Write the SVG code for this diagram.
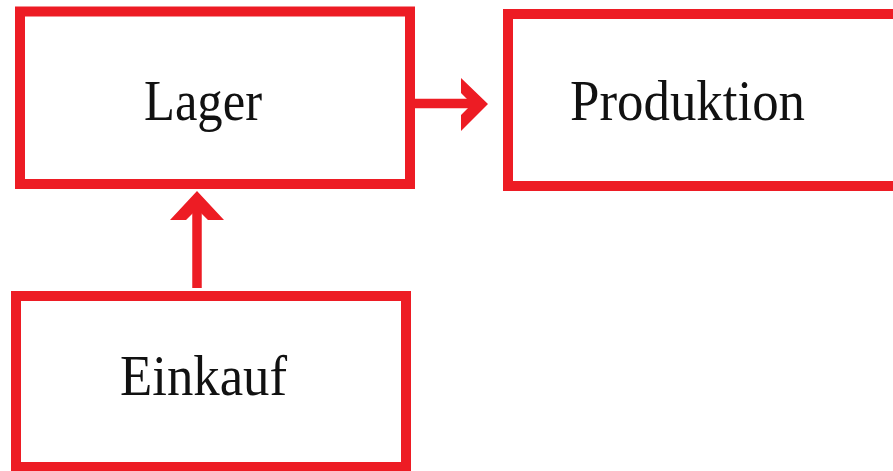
<svg xmlns="http://www.w3.org/2000/svg" width="893" height="471" viewBox="0 0 893 471">
  <style>
    .box { fill: #ffffff; stroke: #ed1c24; stroke-width: 10; }
    .lbl { font-family: "Liberation Serif", "Times New Roman", serif; font-size: 57px; fill: #111111; }
    .line { stroke: #ed1c24; stroke-width: 9.5; fill: none; }
    .head { fill: #ed1c24; }
  </style>
  <rect x="0" y="0" width="893" height="471" fill="#ffffff"/>
  <g id="lager">
    <rect class="box" x="20" y="11.5" width="390" height="172.5"/>
    <text class="lbl" x="144" y="120" textLength="118" lengthAdjust="spacingAndGlyphs">Lager</text>
  </g>
  <g id="produktion">
    <rect class="box" x="508" y="14" width="392" height="172"/>
    <text class="lbl" x="570" y="120" textLength="235" lengthAdjust="spacingAndGlyphs">Produktion</text>
  </g>
  <g id="einkauf">
    <rect class="box" x="16" y="296" width="390" height="171"/>
    <text class="lbl" x="120" y="395" textLength="167" lengthAdjust="spacingAndGlyphs">Einkauf</text>
  </g>
  <g id="connectors">
    <line class="line" x1="415" y1="103.5" x2="476" y2="103.5"/>
    <polygon class="head" points="461,78 488,104 461,131 461,115 472,104 461,93"/>
    <line class="line" x1="197" y1="288" x2="197" y2="202"/>
    <polygon class="head" points="197,191 224,220 208,220 197,209 186,220 170,220"/>
  </g>
</svg>
